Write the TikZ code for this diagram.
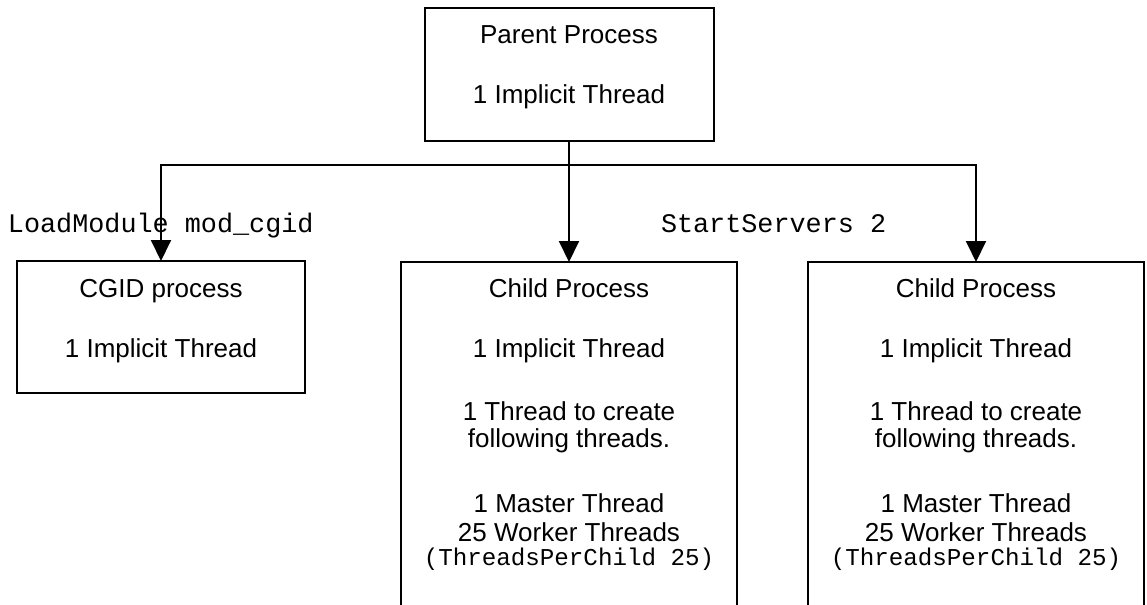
\documentclass[tikz,border=0pt]{standalone}
\usepackage{fontspec}
\setmainfont{Liberation Sans}
\setmonofont{Liberation Mono}
\usetikzlibrary{arrows.meta}

\begin{document}
\begin{tikzpicture}[x=0.5pt, y=-0.5pt,
  line width=1pt,
  procbox/.style={draw, inner sep=0pt, outer sep=0pt},
  openbox/.style={draw=none, inner sep=0pt, outer sep=0pt},
  txt/.style={anchor=base, inner sep=0pt, font=\fontsize{13}{15.6}\selectfont},
  codetxt/.style={anchor=base, inner sep=0pt, font=\fontsize{12.1}{14.5}\selectfont\ttfamily},
  directive/.style={anchor=base west, inner sep=0pt, font=\fontsize{13.4}{16}\selectfont\ttfamily},
  wire/.style={draw, line cap=rect},
  spawn/.style={draw, -{Triangle[length=10.5pt, width=10pt]}}]

% canvas
\fill[white] (0,0) rectangle (1147,605);
\path[use as bounding box] (0,0) rectangle (1147,605);

% process boxes
\node[procbox, minimum width=144.5pt, minimum height=66.5pt] (parent) at (569,74.5) {};
\node[procbox, minimum width=144pt, minimum height=66pt] (cgid) at (161,327) {};
\node[openbox, minimum width=168pt, minimum height=171.5pt] (child1) at (569,433.5) {};
\node[openbox, minimum width=168pt, minimum height=171.5pt] (child2) at (976,433.5) {};

% child boxes run past the lower edge, so only three sides are drawn
\foreach \c in {child1, child2}
  \draw (\c.south west) -- (\c.north west) -- (\c.north east) -- (\c.south east);

% box texts
\node[txt] (parent-l1) at (569,43) {Parent Process};
\node[txt] (parent-l2) at (569,103) {1 Implicit Thread};

\node[txt] (cgid-l1) at (161,297) {CGID process};
\node[txt] (cgid-l2) at (161,357) {1 Implicit Thread};

\foreach \c/\x in {child1/569, child2/976} {
  \foreach \t/\y [count=\i] in {Child Process/297, 1 Implicit Thread/357,
      1 Thread to create/420, following threads./447,
      1 Master Thread/512, 25 Worker Threads/541}
    \node[txt] (\c-l\i) at (\x,\y) {\t};
  \node[codetxt] (\c-conf) at (\x,565) {(ThreadsPerChild 25)};
}

% connectors
\coordinate (bus) at (569,165);
\draw[wire] (parent.south) -- (bus);
\draw[spawn] (bus) -| (cgid.north);
\draw[spawn] (bus) -- (child1.north);
\draw[spawn] (bus) -| (child2.north);

% configuration directives
\node[directive] (loadmod) at (7,232) {LoadModule mod\_cgid};
\node[directive] (startsrv) at (660,232) {StartServers 2};
\end{tikzpicture}
\end{document}
